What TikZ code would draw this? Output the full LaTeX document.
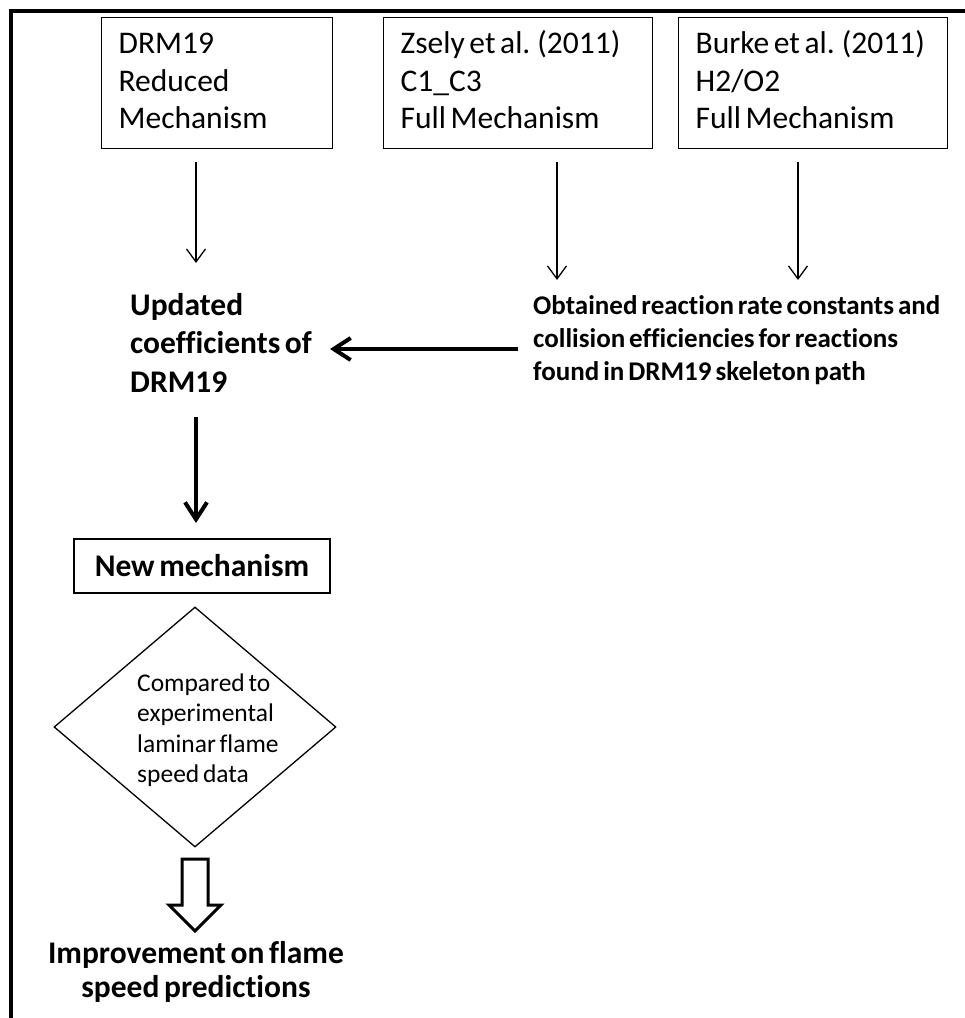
\documentclass[tikz,border=0pt]{standalone}
\usepackage{fontspec}
\setmainfont{Carlito}[WordSpace={0.65,0,0}, Ligatures={NoCommon}]
\usetikzlibrary{arrows.meta,shapes.geometric}

\begin{document}
\begin{tikzpicture}[x=1pt,y=-1pt,
  srcbox/.style={draw, line width=1.3pt, anchor=north west, align=flush left,
    inner xsep=17pt, inner ysep=0pt, text height=36pt, text depth=95pt,
    font=\fontsize{31.5pt}{37.5pt}\selectfont},
  boldtxt/.style={inner sep=0pt, font=\bfseries\fontsize{31.5pt}{38.5pt}\selectfont},
  thinarr/.style={line width=1.3pt, -{Straight Barb[length=13pt,width=19pt]}},
  thickarr/.style={line width=4pt, -{Straight Barb[length=17pt,width=22pt]}},
]
\useasboundingbox (0,0) rectangle (965,1018);

% outer frame (top and left sides only)
\draw[line width=3.3pt] (11,1018) -- (11,11) -- (965,11);

% source mechanisms
\node[srcbox, text width=197pt] (drm) at (101,17)
  {DRM19\\Reduced\\Mechanism};
\node[srcbox, text width=235pt] (zsely) at (383,17)
  {\mbox{Zsely et al. (2011)}\\C1\_C3\\\mbox{Full Mechanism}};
\node[srcbox, text width=235pt] (burke) at (678,17)
  {\mbox{Burke et al. (2011)}\\H2/O2\\\mbox{Full Mechanism}};

% intermediate results
\node[boldtxt, anchor=base west, text width=220pt, align=flush left] (upd) at (130,315)
  {Updated\\\mbox{coefficients of}\\DRM19};
\node[inner sep=0pt, anchor=base west, text width=430pt, align=flush left,
  font=\bfseries\fontsize{27pt}{33pt}\selectfont] (obt) at (533,314)
  {\mbox{Obtained reaction rate constants and}\\\mbox{collision efficiencies for reactions}\\\mbox{found in DRM19 skeleton path}};

% new mechanism and comparison
\node[draw, line width=1.3pt, minimum width=256pt, minimum height=54pt, inner sep=0pt,
  font=\bfseries\fontsize{31.5pt}{36pt}\selectfont] (newm) at (202,566) {New mechanism};
\node[diamond, draw, line width=1.3pt, minimum width=282pt, minimum height=240pt,
  inner sep=0pt] (cmp) at (195,727) {};
\node[inner sep=0pt, anchor=base west, text width=170pt, align=flush left,
  font=\fontsize{25.5pt}{30.5pt}\selectfont] (cmptxt) at (137,691)
  {Compared to\\experimental\\laminar flame\\speed data};

% final outcome
\node[inner sep=0pt, anchor=base, text width=330pt, align=flush center,
  font=\bfseries\fontsize{31.5pt}{34.5pt}\selectfont] (res) at (196,963)
  {Improvement on flame\\speed predictions};

% connector end points
\coordinate (d1) at (196,162);  \coordinate (d2) at (196,263);
\coordinate (z1) at (557,162);  \coordinate (z2) at (557,280);
\coordinate (b1) at (798,162);  \coordinate (b2) at (798,280);
\coordinate (o1) at (518,349);  \coordinate (o2) at (330,349);
\coordinate (u1) at (196,417);  \coordinate (u2) at (196,523);

\draw[thinarr] (d1) -- (d2);
\draw[thinarr] (z1) -- (z2);
\draw[thinarr] (b1) -- (b2);
\draw[thickarr] (o1) -- (o2);
\draw[thickarr] (u1) -- (u2);

% hollow block arrow towards the outcome
\draw[line width=3pt, line join=miter]
  (182,859) -- (208,859) -- (208,905) -- (221,905) -- (195,931)
  -- (169,905) -- (182,905) -- cycle;
\end{tikzpicture}
\end{document}
